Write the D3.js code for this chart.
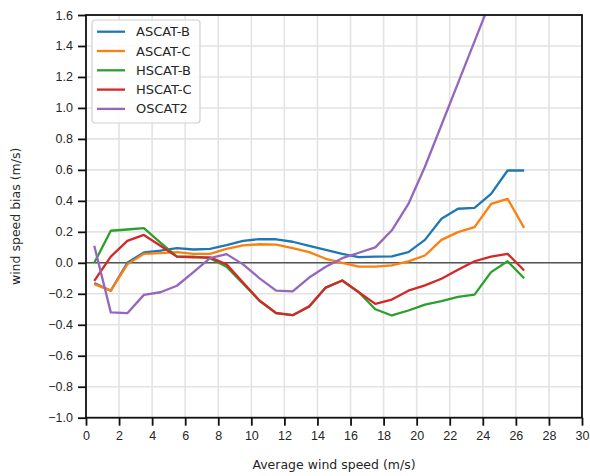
<!DOCTYPE html>
<html>
<head>
<meta charset="utf-8">
<script src="https://cdn.jsdelivr.net/npm/d3@7"></script>
<style>
  body { margin: 0; background: #fff; }
  svg { display: block; font-family: "DejaVu Sans", sans-serif; }
</style>
</head>
<body>
<div id="chart"></div>
<script>
// wind speed bins (bin centres)
var speeds = [0.5, 1.5, 2.5, 3.5, 4.5, 5.5, 6.5, 7.5, 8.5, 9.5, 10.5, 11.5, 12.5, 13.5,
  14.5, 15.5, 16.5, 17.5, 18.5, 19.5, 20.5, 21.5, 22.5, 23.5, 24.5, 25.5, 26.5];

var ascatB = [-0.13, -0.18, 0.0, 0.067, 0.078, 0.095, 0.086, 0.09, 0.114, 0.142, 0.153, 0.152, 0.136,
  0.11, 0.084, 0.058, 0.037, 0.04, 0.042, 0.069, 0.148, 0.284, 0.349, 0.355, 0.445, 0.596, 0.596];
var ascatC = [-0.138, -0.18, -0.01, 0.058, 0.062, 0.069, 0.058, 0.058, 0.09, 0.112, 0.12, 0.117, 0.095,
  0.069, 0.026, 0.0, -0.024, -0.024, -0.017, 0.009, 0.047, 0.148, 0.198, 0.23, 0.38, 0.413, 0.226];
var hscatB = [0.0, 0.207, 0.215, 0.224, 0.13, 0.04, 0.04, 0.03, -0.025, -0.135, -0.245, -0.327, -0.338,
  -0.284, -0.16, -0.114, -0.19, -0.30, -0.34, -0.308, -0.27, -0.247, -0.22, -0.205, -0.06, 0.01, -0.10];
var hscatC = [-0.116, 0.04, 0.142, 0.18, 0.11, 0.04, 0.035, 0.035, -0.01, -0.127, -0.245, -0.323, -0.338,
  -0.28, -0.16, -0.114, -0.19, -0.265, -0.237, -0.18, -0.146, -0.103, -0.045, 0.01, 0.04, 0.058, -0.05];
var oscat2 = [0.11, -0.32, -0.325, -0.207, -0.19, -0.148, -0.06, 0.03, 0.056, -0.01, -0.10, -0.18, -0.185,
  -0.095, -0.025, 0.03, 0.065, 0.10, 0.21, 0.38, 0.62, 0.89, 1.16, 1.43, 1.70];

var seriesNames = ['ASCAT-B', 'ASCAT-C', 'HSCAT-B', 'HSCAT-C', 'OSCAT2'];
var seriesValues = [ascatB, ascatC, hscatB, hscatC, oscat2];
var seriesColors = ['#1f77b4', '#ff7f0e', '#2ca02c', '#d62728', '#9467bd'];

var xTicks = d3.range(0, 31, 2);
var yTicks = [-1.0, -0.8, -0.6, -0.4, -0.2, 0.0, 0.2, 0.4, 0.6, 0.8, 1.0, 1.2, 1.4, 1.6];

var width = 590, height = 476;
var margin = {left: 86, right: 8, top: 15, bottom: 58};

var svg = d3.select('#chart').append('svg')
  .attr('width', width)
  .attr('height', height);

var x = d3.scaleLinear().domain([0, 30]).range([margin.left, width - margin.right]);
var y = d3.scaleLinear().domain([-1.0, 1.6]).range([height - margin.bottom - 0.3, margin.top]);

// grid
var grid = svg.append('g');
grid.selectAll('line.gx').data(xTicks).enter().append('line')
  .attr('x1', d => x(d)).attr('x2', d => x(d))
  .attr('y1', y(-1.0)).attr('y2', y(1.6))
  .attr('stroke', '#e3e3e3').attr('stroke-width', 1.6);
grid.selectAll('line.gy').data(yTicks).enter().append('line')
  .attr('x1', x(0)).attr('x2', x(30))
  .attr('y1', d => y(d)).attr('y2', d => y(d))
  .attr('stroke', '#e3e3e3').attr('stroke-width', 1.6);

// zero line
svg.append('line')
  .attr('x1', x(0)).attr('x2', x(30))
  .attr('y1', y(0)).attr('y2', y(0))
  .attr('stroke', '#555').attr('stroke-width', 1.5);

svg.append('clipPath').attr('id', 'plot-clip')
  .append('rect')
  .attr('x', x(0)).attr('y', y(1.6))
  .attr('width', x(30) - x(0)).attr('height', y(-1.0) - y(1.6));

var line = d3.line()
  .x(d => x(d[0]))
  .y(d => y(d[1]));

var lines = svg.append('g').attr('clip-path', 'url(#plot-clip)');
seriesValues.forEach(function(vals, i) {
  var pts = vals.map((v, j) => [speeds[j], v]);
  lines.append('path')
    .datum(pts)
    .attr('d', line)
    .attr('fill', 'none')
    .attr('stroke', seriesColors[i])
    .attr('stroke-width', 2.3)
    .attr('stroke-linejoin', 'round');
});

// axes
var xAxis = d3.axisBottom(x).tickValues(xTicks).tickSize(8).tickPadding(5)
  .tickFormat(d3.format('d'));
var yAxis = d3.axisLeft(y).tickValues(yTicks).tickSize(8).tickPadding(5)
  .tickFormat(d => d3.format('.1f')(d).replace('-', '\u2212'));

var gx = svg.append('g').attr('transform', 'translate(0,' + y(-1.0) + ')').call(xAxis);
var gy = svg.append('g').attr('transform', 'translate(' + x(0) + ',0)').call(yAxis);
[gx, gy].forEach(function(g) {
  g.select('.domain').remove();
  g.selectAll('.tick line').attr('stroke', '#111').attr('stroke-width', 1.8);
  g.selectAll('.tick text').attr('fill', '#262626').style('font-size', '12.5px');
});

// frame
svg.append('rect')
  .attr('x', x(0)).attr('y', y(1.6))
  .attr('width', x(30) - x(0)).attr('height', y(-1.0) - y(1.6))
  .attr('fill', 'none').attr('stroke', '#111').attr('stroke-width', 1.8);

// axis labels
svg.append('text')
  .attr('x', (x(0) + x(30)) / 2).attr('y', 469)
  .attr('text-anchor', 'middle')
  .style('font-size', '12.5px').attr('fill', '#262626')
  .text('Average wind speed (m/s)');
svg.append('text')
  .attr('transform', 'translate(20,' + (y(-1.0) + y(1.6)) / 2 + ') rotate(-90)')
  .attr('text-anchor', 'middle')
  .style('font-size', '12.5px').attr('fill', '#262626')
  .text('wind speed bias (m/s)');

// legend
var legend = svg.append('g').attr('transform', 'translate(92,20)');
legend.append('rect')
  .attr('width', 108).attr('height', 103)
  .attr('rx', 3).attr('ry', 3)
  .attr('fill', '#fff').attr('fill-opacity', 0.85)
  .attr('stroke', '#d0d0d0').attr('stroke-width', 1.2);
seriesNames.forEach(function(name, i) {
  var row = legend.append('g').attr('transform', 'translate(0,' + (11.7 + i * 19.3) + ')');
  row.append('line')
    .attr('x1', 5).attr('x2', 33)
    .attr('stroke', seriesColors[i]).attr('stroke-width', 2.3);
  row.append('text')
    .attr('x', 44).attr('dy', '0.35em')
    .style('font-size', '13px').attr('fill', '#262626')
    .text(name);
});
</script>
</body>
</html>
